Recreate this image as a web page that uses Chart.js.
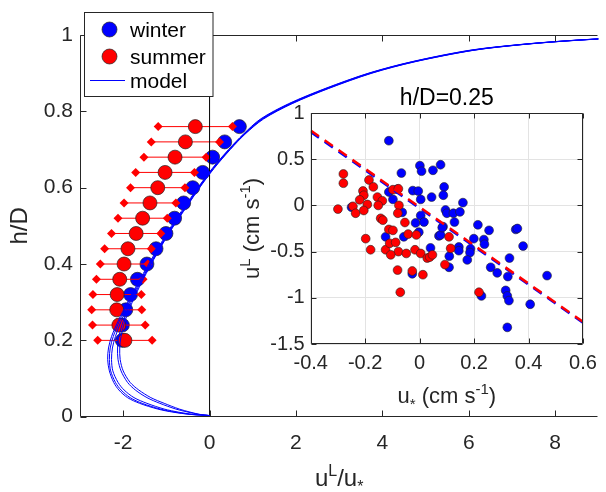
<!DOCTYPE html>
<html>
<head>
<meta charset="utf-8">
<title>Lagrangian velocity profile</title>
<script src="https://cdn.jsdelivr.net/npm/chart.js@4.4.1/dist/chart.umd.min.js"></script>
<style>
    html, body { margin: 0; padding: 0; background: #fff; }
    #wrap { position: relative; width: 606px; height: 492px; }
    #main { position: absolute; left: 0; top: 0; width: 606px; height: 492px; }
    #inset { position: absolute; left: 230px; top: 70px; width: 376px; height: 340px; }
</style>
</head>
<body>
<div id="wrap">
    <canvas id="main" width="606" height="492"></canvas>
    <canvas id="inset" width="376" height="340"></canvas>
</div>
<script>
'use strict';

// ===== MAIN PANEL DATA =====
const depthLevels = [0.20, 0.24, 0.28, 0.32, 0.36, 0.40, 0.44, 0.48, 0.52, 0.56, 0.60, 0.64, 0.68, 0.72, 0.76];
const winterMean = [-2.02, -2.02, -1.94, -1.83, -1.67, -1.45, -1.24, -1.01, -0.81, -0.60, -0.39, -0.16, 0.07, 0.35, 0.69];
const summerMean = [-1.96, -2.10, -2.15, -2.14, -2.08, -1.98, -1.89, -1.70, -1.55, -1.38, -1.20, -1.03, -0.80, -0.56, -0.33];
const summerErr = [0.63, 0.61, 0.58, 0.56, 0.54, 0.55, 0.54, 0.57, 0.57, 0.60, 0.63, 0.68, 0.72, 0.79, 0.86];

const modelDepth = [0.003, 0.006, 0.012, 0.02, 0.035, 0.05, 0.07, 0.09, 0.12, 0.15, 0.18, 0.21, 0.25, 0.30, 0.35, 0.40,
                    0.45, 0.50, 0.55, 0.60, 0.65, 0.70, 0.74, 0.78, 0.82, 0.86, 0.90, 0.93, 0.96, 0.975, 0.985, 0.995];
const modelRun1 = [0, -0.45, -0.85, -1.20, -1.62, -1.90, -2.10, -2.22, -2.32, -2.36, -2.34, -2.27, -2.12, -1.90, -1.66, -1.41,
                   -1.15, -0.88, -0.58, -0.27, 0.06, 0.44, 0.78, 1.18, 1.83, 2.68, 3.68, 4.68, 6.02, 7.18, 8.28, 9.80];
const modelRun2 = [0, -0.42, -0.80, -1.14, -1.56, -1.84, -2.05, -2.18, -2.29, -2.32, -2.30, -2.23, -2.09, -1.88, -1.64, -1.39,
                   -1.13, -0.86, -0.56, -0.26, 0.07, 0.45, 0.79, 1.20, 1.85, 2.70, 3.70, 4.70, 6.05, 7.20, 8.30, 9.82];
const modelRun3 = [0, -0.38, -0.72, -1.05, -1.45, -1.75, -1.98, -2.12, -2.24, -2.27, -2.25, -2.18, -2.05, -1.85, -1.62, -1.37,
                   -1.12, -0.85, -0.55, -0.25, 0.08, 0.46, 0.80, 1.22, 1.87, 2.72, 3.72, 4.72, 6.08, 7.22, 8.32, 9.84];
const modelRun4 = [0, -0.25, -0.50, -0.78, -1.15, -1.45, -1.72, -1.90, -2.05, -2.12, -2.13, -2.10, -2.00, -1.82, -1.60, -1.36,
                   -1.11, -0.84, -0.54, -0.24, 0.09, 0.47, 0.81, 1.23, 1.89, 2.74, 3.74, 4.74, 6.10, 7.24, 8.34, 9.86];
const modelRun5 = [0, -0.22, -0.45, -0.70, -1.05, -1.36, -1.64, -1.84, -2.00, -2.07, -2.08, -2.05, -1.96, -1.79, -1.58, -1.35,
                   -1.10, -0.83, -0.53, -0.23, 0.10, 0.48, 0.82, 1.25, 1.91, 2.76, 3.76, 4.76, 6.12, 7.26, 8.36, 9.88];

const mainXTicks = [-2, 0, 2, 4, 6, 8];
const mainYTicks = [0, 0.2, 0.4, 0.6, 0.8, 1];

// ===== INSET DATA (h/D = 0.25) =====
const winterUstar = [-0.113, -0.067, 0.001, 0.007, 0.049, 0.077, -0.113, -0.098, -0.025, -0.005, 0.004, 0.044, 0.09, 0.087,
                     -0.064, -0.25, 0.004, -0.015, 0.016, -0.125, -0.058, -0.003, 0.04, 0.071, -0.027, 0.086, 0.095, 0.10,
                     0.124, 0.148, 0.159, 0.128, 0.214, 0.255, 0.199, 0.236, 0.238, 0.144, 0.144, 0.187, 0.185, 0.175,
                     0.109, 0.108, 0.353, 0.359, 0.38, 0.33, 0.261, 0.285, 0.324, 0.468, 0.316, 0.322, 0.328, 0.227,
                     0.406, 0.322, -0.082, 0.077, 0.083];
const winterUL = [0.70, 0.35, 0.43, 0.37, 0.38, 0.44, 0.145, 0.065, 0.16, 0.155, 0.065, 0.09, 0.20, 0.11,
                  -0.075, -0.02, -0.11, -0.19, -0.18, -0.34, -0.34, -0.29, -0.46, -0.33, -0.74, -0.23, -0.05, -0.085,
                  -0.085, -0.07, 0.03, -0.18, -0.21, -0.27, -0.36, -0.37, -0.42, -0.45, -0.49, -0.47, -0.51, -0.59,
                  -0.55, -0.67, -0.26, -0.25, -0.44, -0.57, -0.67, -0.73, -0.77, -0.76, -0.92, -0.98, -1.03, -0.98,
                  -1.07, -1.32, 0.175, -0.32, -0.24];
const summerUstar = [-0.28, -0.28, -0.186, -0.17, -0.208, -0.205, -0.22, -0.192, -0.155, -0.137, -0.152, -0.098, -0.078,
                     -0.245, -0.235, -0.205, -0.30, -0.076, -0.08, -0.143, -0.135, -0.054, -0.113, -0.098, -0.042, -0.012,
                     -0.198, -0.18, -0.125, -0.11, -0.088, -0.078, -0.106, -0.049, -0.017, 0.004, 0.028, 0.037, 0.047,
                     -0.081, -0.027, 0.012, -0.071, 0.093, 0.108, 0.114, 0.218];
const summerUL = [0.34, 0.24, 0.275, 0.20, 0.156, 0.11, 0.06, 0.01, 0.09, 0.05, 0.0, 0.17, 0.18,
                  -0.01, -0.085, -0.055, -0.04, 0.0, -0.085, -0.14, -0.16, -0.185, -0.26, -0.27, -0.31, -0.32,
                  -0.36, -0.48, -0.48, -0.41, -0.40, -0.50, -0.535, -0.52, -0.48, -0.52, -0.57, -0.56, -0.535,
                  -0.70, -0.71, -0.75, -0.94, -0.64, -0.34, -0.465, -0.94];
const fitUstar = [-0.4, 0.6];
const winterFit = [0.795, -1.27];
const summerFit = [0.81, -1.26];

const insetXTicks = [-0.4, -0.2, 0, 0.2, 0.4, 0.6];
const insetYTicks = [-1.5, -1, -0.5, 0, 0.5, 1];

// ===== STYLE =====
const FONT = '"Liberation Sans", Arial, Helvetica, sans-serif';
const AXIS = '#262626';
const BLUE = '#0000ff';
const RED = '#ff0000';

function pts(xs, ys) {
    return xs.map(function(x, i) { return { x: x, y: ys[i] }; });
}

// texte avec exposants / indices : parts = [[texte, 0|1|-1], ...]
function drawRich(ctx, parts, x, y, size, align) {
    const small = Math.round(size * 0.68);
    let w = 0;
    parts.forEach(function(p) {
        ctx.font = (p[1] ? small : size) + 'px ' + FONT;
        w += ctx.measureText(p[0]).width;
    });
    let cx = align === 'center' ? x - w / 2 : x;
    ctx.textAlign = 'left';
    ctx.textBaseline = 'alphabetic';
    parts.forEach(function(p) {
        ctx.font = (p[1] ? small : size) + 'px ' + FONT;
        const dy = p[1] === 1 ? -size * 0.4 : (p[1] === -1 ? size * 0.25 : 0);
        ctx.fillText(p[0], cx, y + dy);
        cx += ctx.measureText(p[0]).width;
    });
}

// cadre MATLAB : boite + graduations vers l'interieur
const framePlugin = {
    id: 'frame',
    afterDatasetsDraw(chart, args, opts) {
        const ctx = chart.ctx, a = chart.chartArea;
        const xs = chart.scales.x, ys = chart.scales.y;
        const L = Math.round(a.left) + 0.5, R = Math.round(a.right) - 0.5;
        const T = Math.round(a.top) + 0.5, B = Math.round(a.bottom) - 0.5;
        const t = opts.tick || 5;
        ctx.save();
        ctx.strokeStyle = AXIS;
        ctx.lineWidth = 1;
        ctx.beginPath();
        ctx.moveTo(L, T); ctx.lineTo(L, B); ctx.lineTo(R, B);
        ctx.moveTo(L, T); ctx.lineTo(R, T);
        if (opts.right) { ctx.moveTo(R, T); ctx.lineTo(R, B); }
        xs.ticks.forEach(function(tk) {
            const px = Math.round(xs.getPixelForValue(tk.value)) + 0.5;
            ctx.moveTo(px, B); ctx.lineTo(px, B - t);
            ctx.moveTo(px, T); ctx.lineTo(px, T + t);
        });
        ys.ticks.forEach(function(tk) {
            const py = Math.round(ys.getPixelForValue(tk.value)) + 0.5;
            ctx.moveTo(L, py); ctx.lineTo(L + t, py);
            if (opts.right) { ctx.moveTo(R, py); ctx.lineTo(R - t, py); }
        });
        ctx.stroke();
        ctx.restore();
    }
};

// ===== MAIN CHART =====
const mainDatasets = [];
[modelRun1, modelRun2, modelRun3, modelRun4, modelRun5].forEach(function(run) {
    mainDatasets.push({
        data: pts(run, modelDepth),
        showLine: true, borderColor: BLUE, borderWidth: 1, pointRadius: 0, tension: 0.3
    });
});
mainDatasets.push({
    data: [{ x: 0, y: 0 }, { x: 0, y: 1 }],
    showLine: true, borderColor: '#000', borderWidth: 1, pointRadius: 0
});
mainDatasets.push({
    data: pts(summerMean, depthLevels),
    pointRadius: 7, pointBackgroundColor: RED, pointBorderColor: '#222', pointBorderWidth: 0.7
});
depthLevels.forEach(function(h, i) {
    mainDatasets.push({
        data: [{ x: summerMean[i] - summerErr[i], y: h }, { x: summerMean[i] + summerErr[i], y: h }],
        showLine: true, borderColor: RED, borderWidth: 1,
        pointStyle: 'rectRot', pointRadius: 4.5, pointBackgroundColor: RED, pointBorderWidth: 0
    });
});
mainDatasets.push({
    data: pts(winterMean, depthLevels),
    pointRadius: 7, pointBackgroundColor: BLUE, pointBorderColor: '#222', pointBorderWidth: 0.7
});

const mainDecor = {
    id: 'mainDecor',
    afterDraw(chart) {
        const ctx = chart.ctx, a = chart.chartArea;
        ctx.save();
        ctx.fillStyle = AXIS;
        // titres des axes
        drawRich(ctx, [['u', 0], ['L', 1], ['/u', 0], ['*', -1]], (a.left + a.right) / 2, 486, 24, 'center');
        ctx.translate(27, (a.top + a.bottom) / 2);
        ctx.rotate(-Math.PI / 2);
        drawRich(ctx, [['h/D', 0]], 0, 0, 24, 'center');
        ctx.restore();

        // legende
        ctx.save();
        ctx.fillStyle = '#fff';
        ctx.fillRect(84.5, 12.5, 128.5, 84);
        ctx.strokeStyle = AXIS;
        ctx.lineWidth = 1;
        ctx.strokeRect(84.5, 12.5, 128.5, 84);
        [[BLUE, 29.5], [RED, 56.5]].forEach(function(m) {
            ctx.beginPath();
            ctx.arc(109.5, m[1], 7.5, 0, Math.PI * 2);
            ctx.fillStyle = m[0];
            ctx.fill();
            ctx.strokeStyle = '#222';
            ctx.lineWidth = 0.7;
            ctx.stroke();
        });
        ctx.beginPath();
        ctx.moveTo(90, 80.5); ctx.lineTo(125, 80.5);
        ctx.strokeStyle = BLUE;
        ctx.lineWidth = 1;
        ctx.stroke();
        ctx.fillStyle = '#000';
        ctx.font = '21px ' + FONT;
        ctx.textAlign = 'left';
        ctx.textBaseline = 'alphabetic';
        ctx.fillText('winter', 130, 37);
        ctx.fillText('summer', 130, 64);
        ctx.fillText('model', 130, 88);
        ctx.restore();
    }
};

new Chart(document.getElementById('main'), {
    type: 'scatter',
    data: { datasets: mainDatasets },
    plugins: [framePlugin, mainDecor],
    options: {
        responsive: false,
        animation: false,
        events: [],
        layout: { padding: { left: 0, top: 35, right: 0, bottom: 0 } },
        plugins: { legend: { display: false }, tooltip: { enabled: false }, frame: { tick: 6, right: false } },
        scales: {
            x: {
                type: 'linear', min: -3, max: 9,
                afterFit: function(s) { s.height = 75.3; },
                afterBuildTicks: function(s) { s.ticks = mainXTicks.map(function(v) { return { value: v }; }); },
                grid: { display: false, drawTicks: false },
                border: { display: false },
                ticks: {
                    autoSkip: false, maxRotation: 0, padding: 14, color: AXIS,
                    font: { family: FONT, size: 21 },
                    callback: function(v) { return String(v); }
                }
            },
            y: {
                type: 'linear', min: 0, max: 1,
                afterFit: function(s) { s.width = 80; },
                afterBuildTicks: function(s) { s.ticks = mainYTicks.map(function(v) { return { value: v }; }); },
                grid: { display: false, drawTicks: false },
                border: { display: false },
                ticks: {
                    autoSkip: false, padding: 7, color: AXIS,
                    font: { family: FONT, size: 21 },
                    callback: function(v) { return String(v); }
                }
            }
        }
    }
});

// ===== INSET CHART =====
const insetDecor = {
    id: 'insetDecor',
    beforeDraw(chart) {
        const ctx = chart.ctx, a = chart.chartArea;
        ctx.save();
        ctx.fillStyle = '#fff';
        ctx.fillRect(a.left, a.top, a.right - a.left, a.bottom - a.top);
        ctx.restore();
    },
    afterDraw(chart) {
        const ctx = chart.ctx, a = chart.chartArea;
        const cx = (a.left + a.right) / 2;
        ctx.save();
        ctx.fillStyle = '#000';
        drawRich(ctx, [['h/D=0.25', 0]], cx, 35, 23, 'center');
        ctx.fillStyle = AXIS;
        drawRich(ctx, [['u', 0], ['*', -1], [' (cm s', 0], ['-1', 1], [')', 0]], cx, 333, 22, 'center');
        ctx.translate(29, (a.top + a.bottom) / 2);
        ctx.rotate(-Math.PI / 2);
        drawRich(ctx, [['u', 0], ['L', 1], [' (cm s', 0], ['-1', 1], [')', 0]], 0, 0, 22, 'center');
        ctx.restore();
    }
};

new Chart(document.getElementById('inset'), {
    type: 'scatter',
    data: {
        datasets: [
            {
                data: pts(fitUstar, summerFit), showLine: true, borderColor: RED, borderWidth: 2.5,
                borderDash: [10, 7], pointRadius: 0
            },
            {
                data: pts(fitUstar, winterFit), showLine: true, borderColor: BLUE, borderWidth: 2.5,
                borderDash: [10, 7], pointRadius: 0
            },
            {
                data: pts(summerUstar, summerUL), pointRadius: 4.4,
                pointBackgroundColor: RED, pointBorderColor: '#222', pointBorderWidth: 0.6
            },
            {
                data: pts(winterUstar, winterUL), pointRadius: 4.4,
                pointBackgroundColor: BLUE, pointBorderColor: '#222', pointBorderWidth: 0.6
            }
        ]
    },
    plugins: [insetDecor, framePlugin],
    options: {
        responsive: false,
        animation: false,
        events: [],
        layout: { padding: { left: 0, top: 43, right: 23, bottom: 0 } },
        plugins: { legend: { display: false }, tooltip: { enabled: false }, frame: { tick: 5, right: true } },
        scales: {
            x: {
                type: 'linear', min: -0.4, max: 0.6,
                afterFit: function(s) { s.height = 66; },
                afterBuildTicks: function(s) { s.ticks = insetXTicks.map(function(v) { return { value: v }; }); },
                grid: { display: true, drawTicks: false, color: '#e3e3e3' },
                border: { display: false },
                ticks: {
                    autoSkip: false, maxRotation: 0, padding: 7, color: AXIS,
                    font: { family: FONT, size: 20 },
                    callback: function(v) { return String(v); }
                }
            },
            y: {
                type: 'linear', min: -1.5, max: 1,
                afterFit: function(s) { s.width = 80.7; },
                afterBuildTicks: function(s) { s.ticks = insetYTicks.map(function(v) { return { value: v }; }); },
                grid: { display: true, drawTicks: false, color: '#e3e3e3' },
                border: { display: false },
                ticks: {
                    autoSkip: false, padding: 6, color: AXIS,
                    font: { family: FONT, size: 20 },
                    callback: function(v) { return String(v); }
                }
            }
        }
    }
});
</script>
</body>
</html>
